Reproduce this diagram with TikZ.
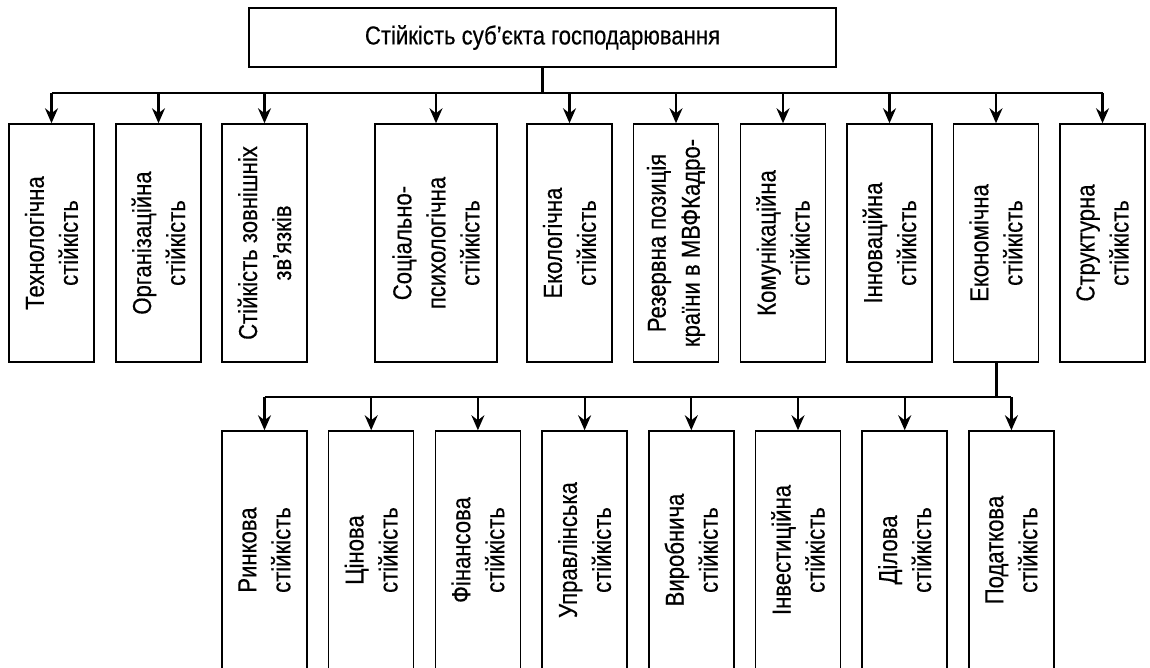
\documentclass[tikz,border=0pt]{standalone}
\usepackage{fontspec}
\setmainfont[FakeStretch=0.85,FakeBold=0.4]{Liberation Sans}
\usetikzlibrary{arrows.meta}

\tikzset{
  vbox/.style={draw, line width=1.5pt, rotate=90, minimum width=238pt,
    minimum height=85pt, inner sep=0pt, align=center,
    font=\fontsize{26}{34}\selectfont},
  link/.style={line width=2.2pt, -{Stealth[length=15pt,width=13pt,inset=5pt]}},
  bus/.style={line width=2.2pt},
  trunk/.style={line width=3pt}
}

\begin{document}
\begin{tikzpicture}[x=1pt,y=-1pt]
        \useasboundingbox (0,0) rectangle (1150,668);
        % root
        \node[draw, line width=1.5pt, minimum width=587pt, minimum height=59pt,
          font=\fontsize{26}{30}\selectfont] (root) at (542.5,37.5)
          {Стійкість суб’єкта господарювання};
        % first level
        \node[vbox] (tech) at (51.5,243) {Технологічна\\стійкість};
        \node[vbox] (org) at (158.5,243) {Організаційна\\стійкість};
        \node[vbox] (ext) at (264.5,243) {Стійкість зовнішніх\\зв’язків};
        \node[vbox, minimum height=122pt] (soc) at (436,243) {Соціально-\\психологічна\\стійкість};
        \node[vbox] (eco) at (569.5,243) {Екологічна\\стійкість};
        \node[vbox] (res) at (676,243) {Резервна позиція\\країни в МВФКадро-};
        \node[vbox] (com) at (783,243) {Комунікаційна\\стійкість};
        \node[vbox] (inn) at (889.5,243) {Інноваційна\\стійкість};
        \node[vbox] (econ) at (996,243) {Економічна\\стійкість};
        \node[vbox] (struct) at (1102.5,243) {Структурна\\стійкість};
        % second level
        \node[vbox] (mark) at (264.5,550) {Ринкова\\стійкість};
        \node[vbox] (price) at (371.2,550) {Цінова\\стійкість};
        \node[vbox] (fin) at (477.9,550) {Фінансова\\стійкість};
        \node[vbox] (mng) at (584.6,550) {Управлінська\\стійкість};
        \node[vbox] (prod) at (691.3,550) {Виробнича\\стійкість};
        \node[vbox] (inv) at (798,550) {Інвестиційна\\стійкість};
        \node[vbox] (bus) at (904.7,550) {Ділова\\стійкість};
        \node[vbox] (tax) at (1011.4,550) {Податкова\\стійкість};
        % connectors
        \coordinate (top) at (542.5,93);
        \coordinate (low) at (996,397);
        \draw[trunk] (root.south) -- (top);
        \draw[bus] (tech.east |- top) -- (struct.east |- top);
        \foreach \n in {tech,org,ext,soc,eco,res,com,inn,econ,struct}{
          \draw[link] (\n.east |- top) -- (\n.east);
        }
        \draw[trunk] (econ.west) -- (low);
        \draw[bus] (mark.east |- low) -- (tax.east |- low);
        \foreach \n in {mark,price,fin,mng,prod,inv,bus,tax}{
          \draw[link] (\n.east |- low) -- (\n.east);
        }
      \end{tikzpicture}
\end{document}
